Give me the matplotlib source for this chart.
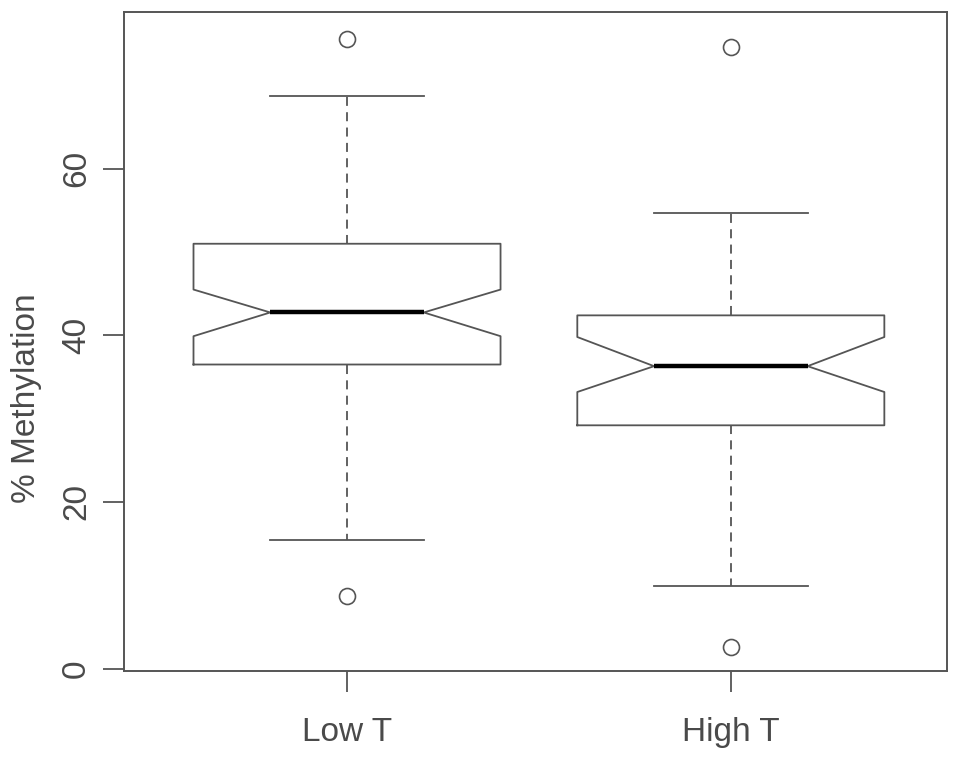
import matplotlib
matplotlib.use("Agg")
import matplotlib.pyplot as plt

plt.rcParams['font.family'] = ['Liberation Sans', 'DejaVu Sans']

groups = ["Low T", "High T"]
q1 = [36.5, 29.2]
med = [42.75, 36.3]
q3 = [51.0, 42.4]
ci_lo = [39.9, 33.2]
ci_hi = [45.5, 39.8]
whis_lo = [15.4, 9.9]
whis_hi = [68.7, 54.7]
outliers = [[75.6, 8.7], [74.6, 2.6]]

stats = []
for i, g in enumerate(groups):
    stats.append(dict(label=g, med=med[i], q1=q1[i], q3=q3[i],
                      cilo=ci_lo[i], cihi=ci_hi[i],
                      whislo=whis_lo[i], whishi=whis_hi[i],
                      fliers=outliers[i]))

grey = "#555555"
txt = "#4a4a4a"
fig = plt.figure(figsize=(9.69, 7.62), dpi=100)
ax = fig.add_axes([0.128, 0.1194, 0.849, 0.8646])

ax.bxp(stats, positions=[1, 2], widths=0.8, shownotches=True,
       boxprops=dict(color=grey, lw=1.3),
       whiskerprops=dict(color=grey, lw=1.3, linestyle=(0, (5, 3.5))),
       capprops=dict(color=grey, lw=1.3),
       medianprops=dict(color="black", lw=3.2, solid_capstyle="butt"),
       flierprops=dict(marker="o", markersize=11.5, markerfacecolor="none",
                       markeredgecolor=grey, markeredgewidth=1.2))

ax.set_xlim(0.419, 2.5625)
ax.set_ylim(-0.3, 78.8)
ax.set_yticks([0, 20, 40, 60])
ax.set_xticks([1, 2])
ax.set_xticklabels(groups)
ax.set_ylabel("% Methylation", fontsize=24, color=txt)
ax.yaxis.set_label_coords(-0.1, 0.414)

for s in ax.spines.values():
    s.set_color(grey)
    s.set_linewidth(1.4)
ax.tick_params(axis="both", direction="out", length=15, width=1.3, color=grey,
               labelsize=24, labelcolor=txt)
ax.tick_params(axis="x", pad=18)
ax.tick_params(axis="y", pad=8)
for lab in ax.get_yticklabels():
    lab.set_rotation(90)
    lab.set_va("center")

fig.savefig("out.png", dpi=100)
